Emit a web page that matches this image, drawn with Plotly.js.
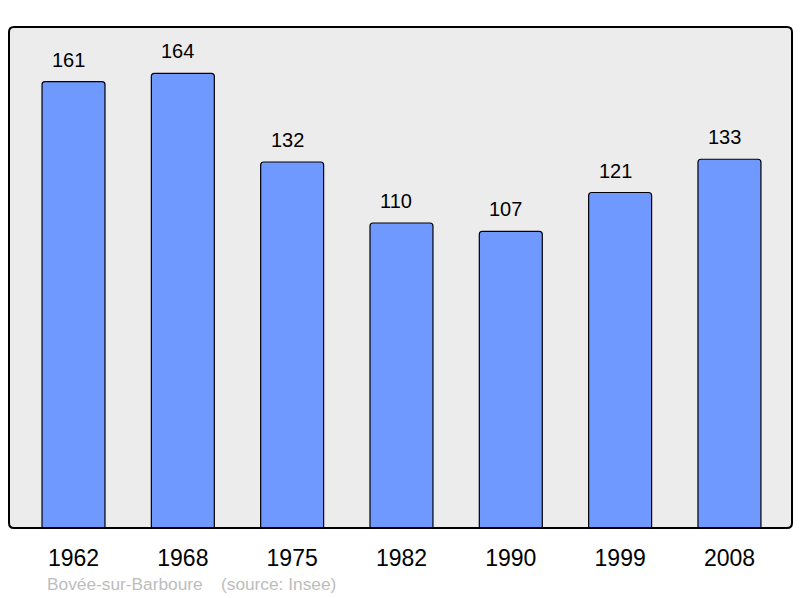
<!DOCTYPE html>
<html><head><meta charset="utf-8">
<script src="https://cdn.plot.ly/plotly-3.0.1.min.js"></script>
<style>html,body{margin:0;padding:0;background:#fff}</style>
</head><body>
<div id="chart" style="width:800px;height:598px"></div>
<script>
var years = ['1962','1968','1975','1982','1990','1999','2008'];
var population = [161,164,132,110,107,121,133];
var commune = 'Bovée-sur-Barboure';
var source = '(source: Insee)';

var xs = years.map(function(_, i){ return i; });
var ann = population.map(function(v, i){
  return {x: i, y: v, xref: 'x', yref: 'y', text: String(v), showarrow: false,
    yanchor: 'bottom', yshift: 9, xshift: -5, font: {family: 'Liberation Sans, Arial, sans-serif', size: 20, color: '#000'}};
});
ann.push({xref: 'paper', yref: 'paper', x: 0.0465, y: -0.112, xanchor: 'left', yanchor: 'middle',
  text: commune, showarrow: false, font: {family: 'Liberation Sans, Arial, sans-serif', size: 17.3, color: '#bdbdbd'}});
ann.push({xref: 'paper', yref: 'paper', x: 0.268, y: -0.112, xanchor: 'left', yanchor: 'middle',
  text: source, showarrow: false, font: {family: 'Liberation Sans, Arial, sans-serif', size: 17.3, color: '#bdbdbd'}});

// rounded frame in paper coordinates (radius ~5px)
var rx = 5/783, ry = 5/501;
function roundedRect(){
  return 'M ' + rx + ',0 L ' + (1-rx) + ',0 Q 1,0 1,' + ry +
    ' L 1,' + (1-ry) + ' Q 1,1 ' + (1-rx) + ',1 L ' + rx + ',1 Q 0,1 0,' + (1-ry) +
    ' L 0,' + ry + ' Q 0,0 ' + rx + ',0 Z';
}

Plotly.newPlot('chart', [{
  type: 'bar', x: xs, y: population, width: 0.576,
  marker: {color: '#7099ff', line: {color: '#000', width: 1.2}, cornerradius: 3},
  hoverinfo: 'none'
}], {
  width: 800, height: 598,
  margin: {l: 9, r: 8, t: 27, b: 70, pad: 0},
  paper_bgcolor: '#fff', plot_bgcolor: '#fff',
  showlegend: false,
  xaxis: {range: [-0.59, 6.572], tickvals: xs, ticktext: years, showgrid: false, zeroline: false,
    ticks: 'outside', ticklen: 9, tickcolor: 'rgba(0,0,0,0)',
    tickfont: {family: 'Liberation Sans, Arial, sans-serif', size: 23, color: '#000'}, fixedrange: true},
  yaxis: {range: [0, 180.7], showgrid: false, zeroline: false, showticklabels: false, fixedrange: true},
  annotations: ann,
  shapes: [
    {type: 'path', xref: 'paper', yref: 'paper', path: roundedRect(), fillcolor: '#ececec',
      line: {width: 0}, layer: 'below'},
    {type: 'path', xref: 'paper', yref: 'paper', path: roundedRect(), fillcolor: 'rgba(0,0,0,0)',
      line: {color: '#000', width: 2}, layer: 'above'}
  ]
}, {displayModeBar: false, staticPlot: true});
</script>
</body></html>
